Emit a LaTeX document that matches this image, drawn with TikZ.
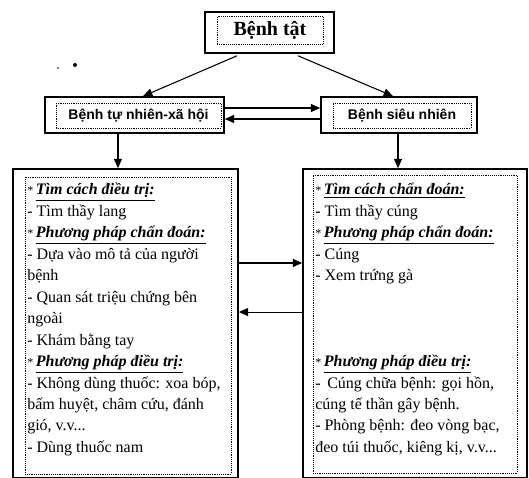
\documentclass[tikz,border=0pt]{standalone}
\usepackage{fontspec}
\setmainfont{Liberation Serif}
\newfontfamily\headfont{Liberation Sans}
\usetikzlibrary{arrows.meta}

\newcommand{\hd}[1]{\underline{\textbf{\textit{#1}}}}

\begin{document}
\begin{tikzpicture}[x=0.75pt,y=0.75pt,yscale=-1,xscale=1,
  outerbox/.style={draw,line width=1.2pt,inner sep=0pt},
  innerbox/.style={draw,densely dotted,line width=0.4pt,inner sep=0pt},
  arr/.style={line width=0.8pt,-{Triangle[length=7pt,width=6pt]}},
  listtext/.style={anchor=north west,inner sep=0pt,align=left,
    font=\fontsize{12}{16.1}\selectfont}]
\useasboundingbox (0,0) rectangle (529,478);

% stray marks
\fill (58,68) circle (0.7pt);
\fill (75,65) circle (1.5pt);

% top box
\node[outerbox,minimum width=96.75pt,minimum height=30.75pt] (benh) at (269.5,32.5) {};
\node[innerbox,minimum width=79.5pt,minimum height=21pt,font=\fontsize{15}{18}\selectfont\bfseries] (benhtxt) at (270,30) {Bệnh tật};

% second row
\node[outerbox,minimum width=134.25pt,minimum height=27pt] (tnhead) at (134.5,115) {};
\node[innerbox,minimum width=123.75pt,minimum height=18.75pt,font=\headfont\fontsize{10.5}{12}\selectfont\bfseries] (tnheadtxt) at (138.5,115.5) {Bệnh tự nhiên-xã hội};
\node[outerbox,minimum width=117pt,minimum height=27pt] (snhead) at (399,115) {};
\node[innerbox,minimum width=103.5pt,minimum height=18.75pt,font=\headfont\fontsize{10.5}{12}\selectfont\bfseries] (snheadtxt) at (402,115.5) {Bệnh siêu nhiên};

% big boxes
\node[outerbox,minimum width=168.75pt,minimum height=231.75pt] (tnbox) at (125.5,323.5) {};
\node[innerbox,minimum width=154.5pt,minimum height=222.75pt] (tnframe) at (128,325.5) {};
\node[outerbox,minimum width=168pt,minimum height=231.75pt] (snbox) at (415,323.5) {};
\node[innerbox,minimum width=153pt,minimum height=223.5pt] (snframe) at (415,324) {};

\node[listtext] (tntext) at (27,183) {%
{\small*}\,\hd{Tìm cách điều trị:}\\
- Tìm thầy lang\\
{\small*}\,\hd{Phương pháp chẩn đoán:}\\
- Dựa vào mô tả của người\\
bệnh\\
- Quan sát triệu chứng bên\\
ngoài\\
- Khám bằng tay\\
{\small*}\,\hd{Phương pháp điều trị:}\\
- Không dùng thuốc: xoa bóp,\\
bấm huyệt, châm cứu, đánh\\
gió, v.v...\\
- Dùng thuốc nam};

\node[listtext] (sntext) at (315,183) {%
{\small*}\,\hd{Tìm cách chẩn đoán:}\\
- Tìm thầy cúng\\
{\small*}\,\hd{Phương pháp chẩn đoán:}\\
- Cúng\\
- Xem trứng gà\\
\mbox{}\\
\mbox{}\\
\mbox{}\\
{\small*}\,\hd{Phương pháp điều trị:}\\
-\, Cúng chữa bệnh: gọi hồn,\\
cúng tế thần gây bệnh.\\
- Phòng bệnh: đeo vòng bạc,\\
đeo túi thuốc, kiêng kị, v.v...};

% connectors (shifts follow yscale=-1)
\draw[arr] ([xshift=-24.4pt,yshift=1.5pt]benh.south) -- ([xshift=6.4pt]tnhead.north);
\draw[arr] ([xshift=21.4pt,yshift=1.5pt]benh.south) -- ([xshift=-4.5pt]snhead.north);
\draw[arr] ([yshift=-5.25pt]tnhead.east) -- ([yshift=-5.25pt]tnhead.east -| snhead.west);
\draw[arr] ([yshift=3pt]snhead.west) -- ([yshift=3pt]snhead.west -| tnhead.east);
\draw[arr] ([xshift=-12.4pt]tnhead.south) -- ([xshift=-12.4pt]tnhead.south |- tnbox.north);
\draw[arr] ([xshift=-0.75pt]snhead.south) -- ([xshift=-0.75pt]snhead.south |- snbox.north);
\draw[arr] ([yshift=-45.4pt]tnbox.east) -- ([yshift=-45.4pt]tnbox.east -| snbox.west);
\draw[arr] ([yshift=-8.6pt]snbox.west) -- ([yshift=-8.6pt]snbox.west -| tnbox.east);

\end{tikzpicture}
\end{document}
